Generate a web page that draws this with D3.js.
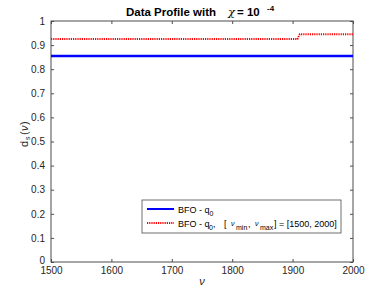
<!DOCTYPE html>
<html>
<head>
<meta charset="utf-8">
<script src="https://cdn.jsdelivr.net/npm/d3@7"></script>
<style>
body { margin: 0; background: #fff; }
text { font-family: "Liberation Sans", Arial, sans-serif; }
</style>
</head>
<body>
<div id="chart"></div>
<script>
var width = 390
var height = 293
var margin = {top: 21, right: 37, bottom: 31, left: 51}

// data
var nuRange = [1500, 2000]
var blueNu = [1500, 2000]
var blueVal = [0.855, 0.855]
var redNu = [1500, 1908, 1912, 2000]
var redVal = [0.925, 0.925, 0.945, 0.945]
var xTicks = [1500, 1600, 1700, 1800, 1900, 2000]
var yTicks = [0, 0.1, 0.2, 0.3, 0.4, 0.5, 0.6, 0.7, 0.8, 0.9, 1]

var svg = d3.select("#chart")
    .append("svg")
        .attr("width", width)
        .attr("height", height)

var x = d3.scaleLinear().domain(nuRange).range([margin.left, width - margin.right])
var y = d3.scaleLinear().domain([0, 1]).range([height - margin.bottom, margin.top])

var axisColor = "#4d4d4d"

// box
svg.append("rect")
    .attr("x", x(1500)).attr("y", y(1))
    .attr("width", x(2000) - x(1500)).attr("height", y(0) - y(1))
    .attr("fill", "none").attr("stroke", axisColor).attr("stroke-width", 1)

function styleAxis(g){
    g.select(".domain").remove()
    g.selectAll("line").attr("stroke", axisColor)
    g.selectAll("text").attr("fill", "#262626").style("font-size", "10px")
}

svg.append("g")
    .attr("transform", "translate(0," + y(0) + ")")
    .call(d3.axisBottom(x).tickValues(xTicks).tickSize(-3).tickPadding(5).tickFormat(d3.format("d")))
    .call(styleAxis)
svg.append("g")
    .attr("transform", "translate(0," + y(1) + ")")
    .call(d3.axisTop(x).tickValues(xTicks).tickSize(-3).tickFormat(""))
    .call(styleAxis)
var yAxis = svg.append("g")
    .attr("transform", "translate(" + x(1500) + ",0)")
    .call(d3.axisLeft(y).tickValues(yTicks).tickSize(-3).tickPadding(6).tickFormat(function(d){ return d === 0 || d === 1 ? d : d3.format(".1f")(d) }))
    .call(styleAxis)
// MATLAB nudges the bottom label up a touch
yAxis.selectAll(".tick text").filter(function(d){ return d === 0 }).attr("dy", "0.1em")
svg.append("g")
    .attr("transform", "translate(" + x(2000) + ",0)")
    .call(d3.axisRight(y).tickValues(yTicks).tickSize(-3).tickFormat(""))
    .call(styleAxis)

var line = d3.line()
    .x(function(d){ return x(d[0]) })
    .y(function(d){ return y(d[1]) })

svg.append("path")
    .datum(d3.zip(blueNu, blueVal))
    .attr("d", line)
    .attr("fill", "none").attr("stroke", "#0000ff").attr("stroke-width", 2.5)

svg.append("path")
    .datum(d3.zip(redNu, redVal))
    .attr("d", line)
    .attr("fill", "none").attr("stroke", "#ff0000").attr("stroke-width", 2)
    .attr("stroke-dasharray", "1.2,1")

// title
var title = svg.append("text")
    .attr("x", 126).attr("y", 16)
    .style("font-size", "11.5px").style("font-weight", "bold").attr("fill", "#000")
title.append("tspan").text("Data Profile with")
title.append("tspan").attr("x", 228).style("font-weight", "normal").style("font-family", "DejaVu Serif").style("font-style", "italic").text("χ")
title.append("tspan").attr("x", 237).text("= 10")
title.append("tspan").attr("x", 267).attr("dy", -5).style("font-size", "8px").text("-4")

// axis labels
svg.append("text")
    .attr("x", x(1750)).attr("y", 285)
    .attr("text-anchor", "middle")
    .style("font-size", "11px").style("font-style", "italic").attr("fill", "#262626")
    .text("ν")

var ylab = svg.append("text")
    .attr("transform", "translate(28,147) rotate(-90)")
    .style("font-size", "11px").attr("fill", "#262626")
ylab.append("tspan").attr("x", 0).attr("y", 0).text("d")
ylab.append("tspan").attr("x", 7).attr("y", 2).style("font-size", "7px").text("s")
ylab.append("tspan").attr("x", 12).attr("y", 0).text("(")
ylab.append("tspan").attr("x", 16).attr("y", 0).style("font-style", "italic").text("ν")
ylab.append("tspan").attr("x", 22).attr("y", 0).text(")")

// legend
var legend = svg.append("g").attr("transform", "translate(142,200)")
legend.append("rect")
    .attr("width", 199).attr("height", 33)
    .attr("fill", "#fff").attr("stroke", axisColor).attr("stroke-width", 0.8)

legend.append("line")
    .attr("x1", 5).attr("x2", 32).attr("y1", 9).attr("y2", 9)
    .attr("stroke", "#0000ff").attr("stroke-width", 2)
legend.append("line")
    .attr("x1", 5).attr("x2", 32).attr("y1", 23).attr("y2", 23)
    .attr("stroke", "#ff0000").attr("stroke-width", 2).attr("stroke-dasharray", "1.2,1")

var l1 = legend.append("text").attr("x", 36).attr("y", 13)
    .style("font-size", "9px").attr("fill", "#000")
l1.append("tspan").text("BFO - q")
l1.append("tspan").attr("dy", 3).style("font-size", "7px").text("0")

// second entry: positions laid out by hand to match MATLAB's tex spacing
var l2 = legend.append("text").attr("y", 27)
    .style("font-size", "9px").attr("fill", "#000")
l2.append("tspan").attr("x", 36).text("BFO - q")
l2.append("tspan").attr("x", 67).attr("dy", 3).style("font-size", "7px").text("0")
l2.append("tspan").attr("x", 71).attr("dy", -3).text(",")
l2.append("tspan").attr("x", 82).text("[")
l2.append("tspan").attr("x", 89).attr("dy", -1).style("font-style", "italic").style("font-size", "7px").text("ν")
l2.append("tspan").attr("x", 94).attr("dy", 4).style("font-size", "7px").text("min")
l2.append("tspan").attr("x", 106).attr("dy", -3).text(",")
l2.append("tspan").attr("x", 113).attr("dy", -1).style("font-style", "italic").style("font-size", "7px").text("ν")
l2.append("tspan").attr("x", 118).attr("dy", 4).style("font-size", "7px").text("max")
l2.append("tspan").attr("x", 132).attr("dy", -3).text("] = [1500, 2000]")
</script>
</body>
</html>
